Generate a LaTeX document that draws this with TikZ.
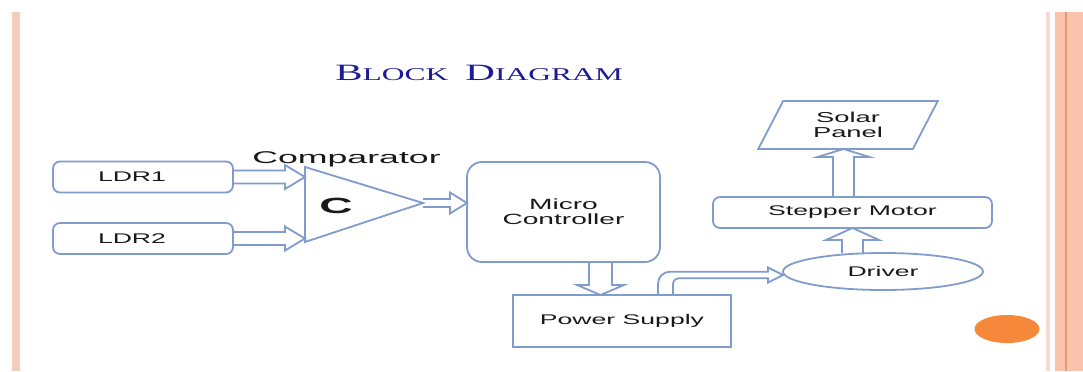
\documentclass[tikz,border=0pt]{standalone}
\usepackage{fontspec}
\newfontfamily\boxfont{Liberation Sans}[FakeStretch=1.9]
\newfontfamily\labfont{Liberation Sans}[FakeStretch=2.1]
\newfontfamily\titlefont{Liberation Serif}[FakeStretch=1.75]
\usetikzlibrary{shapes.geometric,calc,positioning}
\definecolor{cLine}{RGB}{128,156,204}
\definecolor{cText}{RGB}{25,25,25}
\definecolor{cTitle}{RGB}{28,28,150}
\definecolor{cOrange}{RGB}{245,136,58}
\definecolor{cBorderL}{RGB}{243,206,190}
\definecolor{cBorderP}{RGB}{247,218,208}
\definecolor{cBorderR}{RGB}{250,196,172}
\definecolor{cBorderD}{RGB}{228,150,118}
\tikzset{
  basebox/.style={draw=cLine,line width=0.9pt,align=center,text=cText,
                  inner sep=0pt,outer sep=0pt,
                  font=\boxfont\fontsize{7}{7.6}\selectfont},
  ldrnode/.style={basebox,rounded corners=3.5pt,minimum height=15.5pt,
                  text width=45pt,align=left,inner xsep=22.5pt},
  mcnode/.style={basebox,rounded corners=7.5pt,minimum width=96.5pt,
                 minimum height=50pt,font=\boxfont\fontsize{7.4}{7.6}\selectfont},
  psnode/.style={basebox,minimum width=109pt,minimum height=26pt},
  drvnode/.style={basebox,ellipse,minimum width=100pt,minimum height=18.5pt},
  motornode/.style={basebox,rounded corners=3.5pt,minimum width=139.5pt,
                    minimum height=15.5pt},
  panelnode/.style={basebox,trapezium,trapezium left angle=62.5,
                    trapezium right angle=117.5,trapezium stretches=true,
                    minimum width=90pt,minimum height=24pt,
                    font=\boxfont\fontsize{7.2}{7.6}\selectfont},
  blockarr/.style={draw=cLine,line width=0.9pt,line join=miter}
}
% hollow block arrows: start, tip, shaft half width, head half width, head length
\newcommand{\rightblock}[5]{\draw[blockarr] let \p1=(#1), \p2=(#2) in
  (\x1,\y1+#3) -- (\x2-#5,\y1+#3) -- (\x2-#5,\y1+#4) -- (\x2,\y1)
  -- (\x2-#5,\y1-#4) -- (\x2-#5,\y1-#3) -- (\x1,\y1-#3);}
\newcommand{\upblock}[5]{\draw[blockarr] let \p1=(#1), \p2=(#2) in
  (\x1-#3,\y1) -- (\x1-#3,\y2-#5) -- (\x1-#4,\y2-#5) -- (\x1,\y2)
  -- (\x1+#4,\y2-#5) -- (\x1+#3,\y2-#5) -- (\x1+#3,\y1);}
\newcommand{\downblock}[5]{\draw[blockarr] let \p1=(#1), \p2=(#2) in
  (\x1-#3,\y1) -- (\x1-#3,\y2+#5) -- (\x1-#4,\y2+#5) -- (\x1,\y2)
  -- (\x1+#4,\y2+#5) -- (\x1+#3,\y2+#5) -- (\x1+#3,\y1);}
\newcommand{\tcapB}[1]{{\fontsize{11.7}{12}\selectfont #1}}
\newcommand{\tcapS}[1]{{\fontsize{9}{10}\selectfont #1}}

\begin{document}
\begin{tikzpicture}[x=0.5pt,y=-0.5pt]
  \fill[white] (0,0) rectangle (1083,371);
  \useasboundingbox (0,0) rectangle (1083,371);
  % slide borders
  \fill[cBorderL] (12,12) rectangle (20,371);
  \fill[cBorderP] (1046,12) rectangle (1050,371);
  \fill[cBorderR] (1055,12) rectangle (1083,371);
  \draw[cBorderD,line width=0.6pt] (1066,12) -- (1066,371);
  \fill[cOrange] (1007,329) ellipse [x radius=32.5, y radius=14];

  \node[anchor=base west,text=cTitle,font=\titlefont,inner sep=0pt] (title)
      at (335,80.5) {\tcapB{B}\tcapS{LOCK}\hspace{8.5pt}\tcapB{D}\tcapS{IAGRAM}};

  % sensors
  \node[ldrnode] (ldr1) at (143,177) {LDR1};
  \node[ldrnode] (ldr2) at (143,238.5) {LDR2};

  % comparator
  \coordinate (cmpA) at (305,167);
  \coordinate (cmpB) at (305,242);
  \coordinate (cmpT) at (423,203);
  \draw[blockarr] (cmpA) -- (cmpT) -- (cmpB) -- cycle;
  \node[anchor=base,text=cText,inner sep=0pt,
        font=\labfont\bfseries\fontsize{11}{11}\selectfont] (cmp) at (336,213) {C};
  \node[anchor=base,text=cText,inner sep=0pt,
        font=\labfont\fontsize{8.5}{9}\selectfont] (cmplabel) at (346.5,163.3) {Comparator};

  \node[mcnode] (mc) at (563.5,212) {Micro\\Controller};
  \node[psnode] (ps) at (622,321) {Power Supply};
  \node[drvnode] (drv) at (883,271.5) {Driver};
  \node[motornode] (motor) at (852.5,212.5) {Stepper Motor};
  \node[panelnode] (solar) at (848,125) {Solar\\Panel};

  \rightblock{ldr1.east}{cmpA}{3.25pt}{6pt}{10pt}
  \rightblock{ldr2.east}{cmpA}{3.25pt}{6pt}{10pt}
  \rightblock{cmpT}{mc.west}{2pt}{5.25pt}{8.5pt}
  \downblock{[xshift=18.5pt]mc.south}{ps.north}{5.75pt}{11.75pt}{5pt}
  \upblock{[xshift=-15.25pt]drv.north}{motor.south}{5.25pt}{13.25pt}{6pt}
  \upblock{[xshift=-4.5pt]motor.north}{solar.south}{5.25pt}{13pt}{4pt}
  % bent arrow from power supply to driver
  \draw[blockarr] let \p1=([xshift=18pt]ps.north), \p2=(drv.west),
      \p3=($(drv.west)+(0,3.5)$) in
    (\x1,\y1) -- (\x1,\y3-4.35pt) to[out=90,in=180] (\x1+6pt,\y3+1.65pt)
    -- (\x2-7.5pt,\y3+1.65pt) -- (\x2-7.5pt,\y3+3.75pt) -- (\x2,\y3)
    -- (\x2-7.5pt,\y3-3.75pt) -- (\x2-7.5pt,\y3-1.65pt)
    -- (\x1+10.5pt,\y3-1.65pt) to[out=180,in=90] (\x1+7.5pt,\y3-4.65pt)
    -- (\x1+7.5pt,\y1);
\end{tikzpicture}
\end{document}
